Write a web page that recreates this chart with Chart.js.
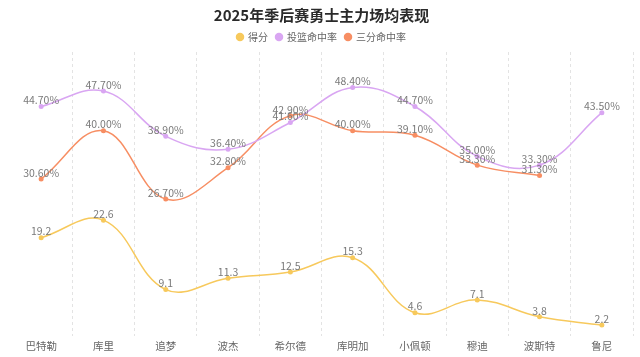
<!DOCTYPE html>
<html>
<head>
<meta charset="utf-8">
<script src="https://cdn.jsdelivr.net/npm/chart.js@4.4.1/dist/chart.umd.min.js"></script>
<style>
html,body{margin:0;padding:0;background:#fff;}
#wrap{width:640px;height:357px;}
</style>
</head>
<body>
<div id="wrap"><canvas id="c" width="640" height="357"></canvas></div>
<script>
const categories = ['巴特勒','库里','追梦','波杰','希尔德','库明加','小佩顿','穆迪','波斯特','鲁尼'];
const points = [19.2, 22.6, 9.1, 11.3, 12.5, 15.3, 4.6, 7.1, 3.8, 2.2];
const fgPct = [44.7, 47.7, 38.9, 36.4, 41.6, 48.4, 44.7, 35.0, 33.3, 43.5];
const threePct = [30.6, 40.0, 26.7, 32.8, 42.9, 40.0, 39.1, 33.3, 31.3, null];
const seriesNames = ['得分','投篮命中率','三分命中率'];

const FONT = '"Noto Sans CJK SC", "Noto Sans", sans-serif';

const labelPlugin = {
  id: 'pointLabels',
  afterDatasetsDraw(chart) {
    const ctx = chart.ctx;
    ctx.save();
    ctx.font = '10.5px ' + FONT;
    ctx.fillStyle = '#7a7a7a';
    ctx.textAlign = 'center';
    ctx.textBaseline = 'bottom';
    chart.data.datasets.forEach((ds, di) => {
      const meta = chart.getDatasetMeta(di);
      meta.data.forEach((pt, i) => {
        const v = ds.data[i];
        if (v === null || v === undefined) return;
        const txt = ds.isPct ? v.toFixed(2) + '%' : v.toFixed(1);
        ctx.fillText(txt, pt.x, pt.y - 1);
      });
    });
    ctx.restore();
  }
};

new Chart(document.getElementById('c'), {
  type: 'line',
  data: {
    labels: categories,
    datasets: [
      { label: seriesNames[0], data: points, isPct: false, borderColor: '#f7c95c', backgroundColor: '#f7c95c' },
      { label: seriesNames[1], data: fgPct, isPct: true, borderColor: '#d9a6f2', backgroundColor: '#d9a6f2' },
      { label: seriesNames[2], data: threePct, isPct: true, borderColor: '#f78e63', backgroundColor: '#f78e63' }
    ]
  },
  options: {
    responsive: false,
    animation: false,
    layout: { padding: { left: 10, right: 7, top: 0, bottom: 2 } },
    elements: {
      line: { tension: 0.4, borderWidth: 1.5, fill: false },
      point: { radius: 2.5, borderWidth: 0, hoverRadius: 3 }
    },
    scales: {
      x: {
        offset: true,
        grid: {
          offset: true,
          drawTicks: false,
          color: (c) => (c.index === 0 || c.index === categories.length) ? 'rgba(0,0,0,0)' : '#e3e3e3',
          lineWidth: 1,
          tickBorderDash: [3,3]
        },
        border: { display: false, dash: [3,3] },
        ticks: { color: '#666', font: { size: 10.5, family: FONT }, padding: 3 }
      },
      y: {
        display: false,
        min: 0,
        max: 55.3
      }
    },
    plugins: {
      title: {
        display: true,
        text: '2025年季后赛勇士主力场均表现',
        color: '#2a2a2a',
        font: { size: 15, weight: 'bold', family: FONT },
        padding: { top: 6, bottom: 0 }
      },
      legend: {
        display: true,
        labels: {
          usePointStyle: true,
          pointStyle: 'circle',
          boxWidth: 6,
          boxHeight: 6,
          color: '#666',
          font: { size: 10, family: FONT },
          padding: 8
        }
      },
      tooltip: { enabled: false }
    }
  },
  plugins: [labelPlugin]
});
</script>
</body>
</html>
